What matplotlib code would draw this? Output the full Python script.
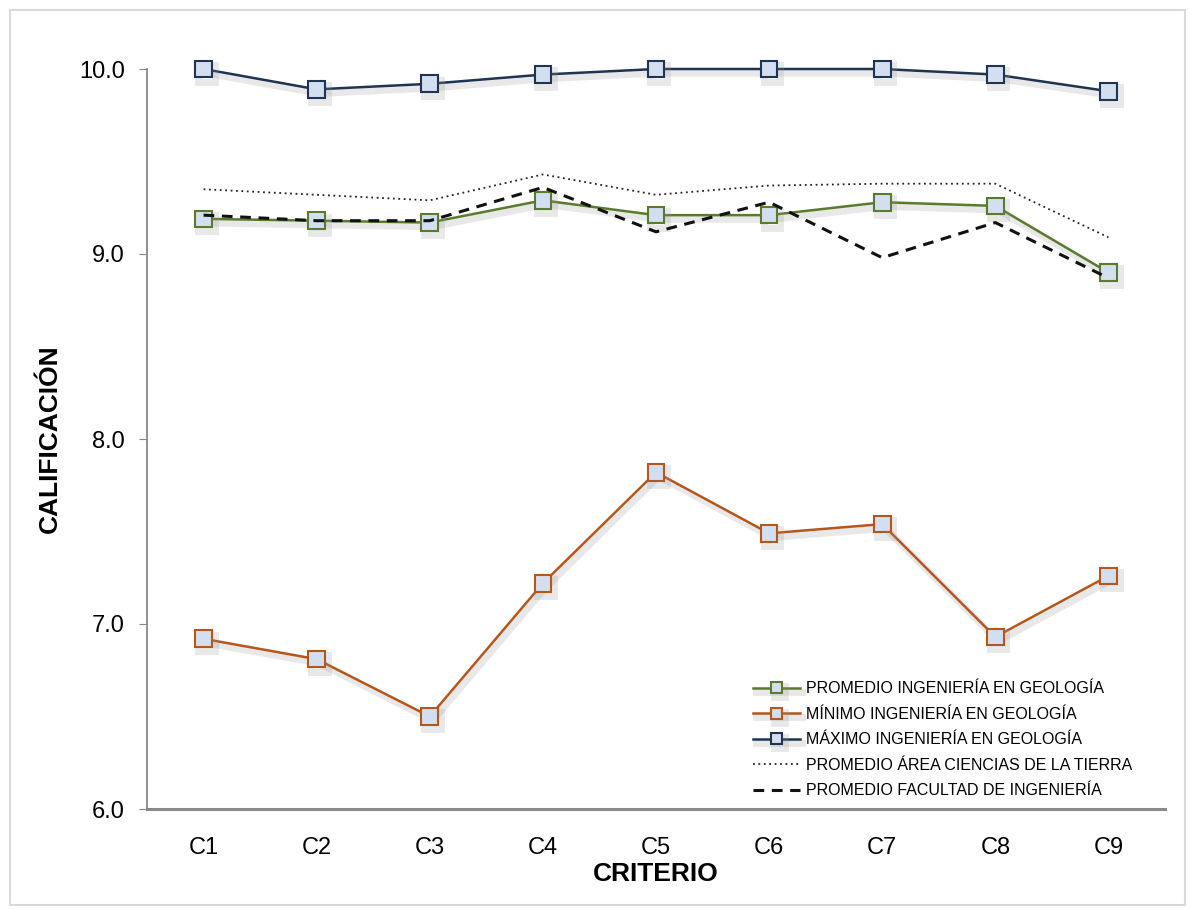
import matplotlib.pyplot as plt
import matplotlib.patheffects as pe
from matplotlib.patches import Rectangle

# Datos
criterios = ["C1", "C2", "C3", "C4", "C5", "C6", "C7", "C8", "C9"]
promedio_geo = [9.19, 9.18, 9.17, 9.29, 9.21, 9.21, 9.28, 9.26, 8.90]
minimo_geo = [6.92, 6.81, 6.50, 7.22, 7.82, 7.49, 7.54, 6.93, 7.26]
maximo_geo = [10.0, 9.89, 9.92, 9.97, 10.0, 10.0, 10.0, 9.97, 9.88]
promedio_area = [9.35, 9.32, 9.29, 9.43, 9.32, 9.37, 9.38, 9.38, 9.09]
promedio_facultad = [9.21, 9.18, 9.18, 9.36, 9.12, 9.28, 8.98, 9.17, 8.87]

plt.rcParams['font.family'] = ['Liberation Sans', 'DejaVu Sans']

fig = plt.figure(figsize=(11.91, 9.09), dpi=100)
ax = fig.add_axes([147 / 1191, 1 - 809 / 909, (1165 - 147) / 1191, (809 - 69) / 909])

# marco gris del grafico
fig.patches.append(Rectangle((10 / 1191, 0.004), 1175 / 1191, 1 - 10 / 909 - 0.004,
                             transform=fig.transFigure, fill=False,
                             edgecolor="#d9d9d9", linewidth=1.5))

x = list(range(len(criterios)))
sombra = [pe.SimpleLineShadow(offset=(2, -3), shadow_color="#999999", alpha=0.22, linewidth=5),
          pe.Normal()]
cara = "#d3dff0"

ax.plot(x, promedio_geo, color="#5a7a2e", lw=1.8, marker="s", ms=12,
        mfc=cara, mec="#5a7a2e", mew=1.5, clip_on=False,
        label="PROMEDIO INGENIERÍA EN GEOLOGÍA", path_effects=sombra, zorder=4)
ax.plot(x, minimo_geo, color="#b5561b", lw=1.8, marker="s", ms=12,
        mfc=cara, mec="#b5561b", mew=1.5, clip_on=False,
        label="MÍNIMO INGENIERÍA EN GEOLOGÍA", path_effects=sombra, zorder=4)
ax.plot(x, maximo_geo, color="#1f3452", lw=1.8, marker="s", ms=12,
        mfc=cara, mec="#1f3452", mew=1.5, clip_on=False,
        label="MÁXIMO INGENIERÍA EN GEOLOGÍA", path_effects=sombra, zorder=4)
ax.plot(x, promedio_area, color="#222222", lw=1.3, linestyle=(0, (1, 2)),
        label="PROMEDIO ÁREA CIENCIAS DE LA TIERRA", zorder=5)
ax.plot(x, promedio_facultad, color="#111111", lw=2.2, linestyle=(0, (3.5, 2.5)),
        label="PROMEDIO FACULTAD DE INGENIERÍA", zorder=5)

ax.set_xlim(-0.5, len(criterios) - 0.5)
ax.set_ylim(6.0, 10.0)
ax.set_yticks([6.0, 7.0, 8.0, 9.0, 10.0])
ax.set_yticklabels(["6.0", "7.0", "8.0", "9.0", "10.0"], fontsize=17)
ax.set_xticks(x)
ax.set_xticklabels(criterios, fontsize=17)
ax.tick_params(axis="x", length=0, pad=20)
ax.tick_params(axis="y", length=6, color="#888888", pad=10)

for lado in ["top", "right"]:
    ax.spines[lado].set_visible(False)
ax.spines["left"].set_color("#888888")
ax.spines["bottom"].set_color("#888888")
ax.spines["left"].set_linewidth(1.3)
ax.spines["bottom"].set_linewidth(2.2)

ax.set_ylabel("CALIFICACIÓN", fontsize=19, fontweight="bold", labelpad=12)
ax.set_xlabel("CRITERIO", fontsize=19, fontweight="bold", labelpad=2)

ax.legend(loc="lower right", bbox_to_anchor=(0.982, -0.005), frameon=False,
          fontsize=11.5, handlelength=2.9, labelspacing=0.66, handletextpad=0.4,
          markerscale=0.65)

fig.savefig("out.png", dpi=100)
